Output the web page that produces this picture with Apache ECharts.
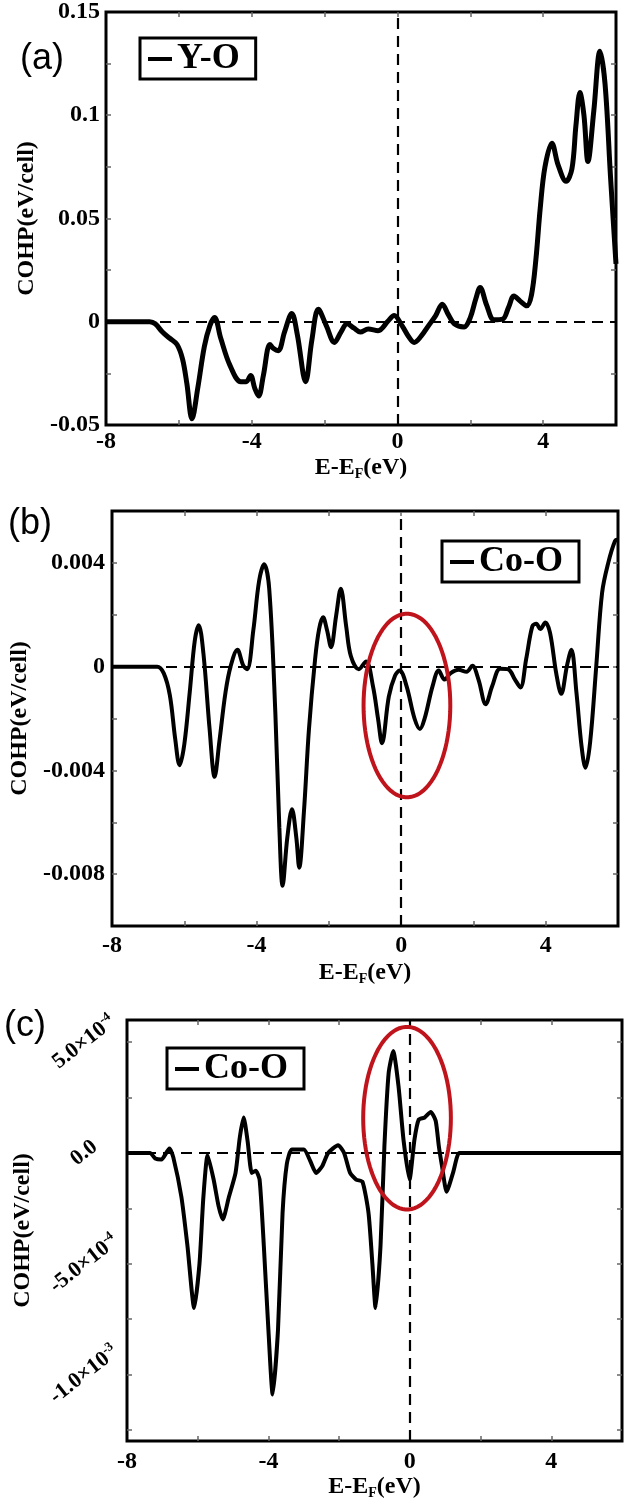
<!DOCTYPE html>
<html>
<head>
<meta charset="utf-8">
<title>COHP</title>
<script src="https://cdn.jsdelivr.net/npm/echarts@6/dist/echarts.min.js"></script>
<style>
  html, body { margin: 0; padding: 0; background: #fff; }
  #chart { width: 625px; height: 1501px; }
</style>
</head>
<body>
<div id="chart"></div>
<script>
// (a) Y-O
const energyA = [-8, -6.8, -6.65, -6.45, -6.25, -6.05, -5.9, -5.78, -5.64, -5.48, -5.3, -5.15, -5.02, -4.85, -4.6, -4.3, -4.15, -4.03, -3.92, -3.81, -3.68, -3.5, -3.4, -3.27, -3.1, -2.9, -2.75, -2.52, -2.35, -2.17, -1.95, -1.73, -1.55, -1.38, -1.2, -1.02, -0.8, -0.53, -0.25, -0.09, 0.13, 0.3, 0.46, 0.65, 0.85, 1.05, 1.23, 1.39, 1.56, 1.83, 2.0, 2.15, 2.27, 2.45, 2.65, 2.89, 3.05, 3.2, 3.37, 3.55, 3.68, 3.8, 3.92, 4.05, 4.24, 4.41, 4.63, 4.79, 4.9, 5.01, 5.12, 5.23, 5.39, 5.56, 5.7, 5.85, 6.0]
const cohpA = [0, 0, -0.001, -0.005, -0.008, -0.011, -0.018, -0.03, -0.047, -0.032, -0.012, -0.002, 0.002, -0.008, -0.021, -0.029, -0.029, -0.026, -0.032, -0.036, -0.026, -0.011, -0.013, -0.014, -0.005, 0.004, -0.006, -0.029, -0.009, 0.006, -0.002, -0.01, -0.005, -0.001, -0.003, -0.005, -0.0035, -0.0043, 0.0005, 0.003, -0.002, -0.007, -0.01, -0.007, -0.002, 0.003, 0.0085, 0.0037, -0.001, -0.0025, 0.002, 0.011, 0.0166, 0.008, 0.001, 0.0013, 0.007, 0.0125, 0.01, 0.0077, 0.013, 0.03, 0.055, 0.075, 0.0865, 0.076, 0.068, 0.074, 0.095, 0.111, 0.1, 0.0776, 0.102, 0.131, 0.115, 0.07, 0.028]

// (b) Co-O
const energyB = [-8, -6.75, -6.57, -6.4, -6.25, -6.13, -6.0, -5.85, -5.71, -5.6, -5.47, -5.3, -5.16, -5.03, -4.86, -4.72, -4.53, -4.37, -4.26, -4.09, -3.93, -3.79, -3.65, -3.48, -3.37, -3.28, -3.15, -3.02, -2.9, -2.82, -2.69, -2.55, -2.38, -2.27, -2.16, -2.05, -1.94, -1.8, -1.67, -1.52, -1.39, -1.17, -0.97, -0.78, -0.64, -0.53, -0.34, -0.17, -0.04, 0.15, 0.37, 0.52, 0.65, 0.87, 1.04, 1.2, 1.37, 1.59, 1.81, 1.97, 2.14, 2.34, 2.52, 2.74, 2.96, 3.15, 3.3, 3.46, 3.63, 3.74, 3.85, 3.99, 4.12, 4.29, 4.43, 4.59, 4.71, 4.85, 4.99, 5.1, 5.23, 5.4, 5.56, 5.73, 5.92, 6.0]
const cohpB = [0, 0, -0.00025, -0.0011, -0.0028, -0.0038, -0.003, -0.001, 0.001, 0.0016, 0.0005, -0.0024, -0.00425, -0.0029, -0.001, 0, 0.00065, 0.00005, -0.0001, 0.0014, 0.0033, 0.00395, 0.003, -0.0018, -0.0062, -0.00845, -0.0066, -0.0055, -0.0066, -0.00775, -0.0056, -0.0024, 0.0003, 0.00145, 0.0019, 0.0014, 0.00075, 0.00195, 0.003, 0.00155, 0.0004, -0.0001, 0.0002, -0.00075, -0.002, -0.00295, -0.00115, -0.00035, -0.00015, -0.00075, -0.002, -0.0024, -0.002, -0.00075, -0.00015, -0.0005, -0.00025, -0.00012, -0.0002, 0.00003, -0.0005, -0.00145, -0.00075, -0.00008, -0.0001, -0.0005, -0.0008, 0.0003, 0.00155, 0.00165, 0.00145, 0.0017, 0.0013, -0.00025, -0.00105, 0.00005, 0.00065, -0.001, -0.00305, -0.0039, -0.0029, 0.00005, 0.00285, 0.004, 0.00485, 0.0049]

// (c) Co-O
const energyC = [-8, -7.35, -7.2, -7.03, -6.8, -6.69, -6.46, -6.29, -6.1, -5.95, -5.84, -5.72, -5.55, -5.41, -5.29, -5.12, -4.93, -4.81, -4.7, -4.59, -4.47, -4.36, -4.25, -4.13, -4.0, -3.88, -3.73, -3.6, -3.48, -3.34, -3.0, -2.82, -2.65, -2.48, -2.31, -2.03, -1.86, -1.69, -1.52, -1.34, -1.17, -1.06, -0.97, -0.83, -0.72, -0.6, -0.47, -0.32, -0.18, -0.01, 0.13, 0.25, 0.42, 0.59, 0.73, 0.82, 0.91, 1.04, 1.22, 1.39, 1.5, 6]
const cohpC = [0, 0, -0.000025, -0.00003, 0.00002, -0.00002, -0.0002, -0.00042, -0.0007, -0.0005, -0.0002, -0.00001, -0.00012, -0.00024, -0.0003, -0.0002, -0.00009, 0.00007, 0.00016, 0.000055, -0.00009, -0.00008, -0.00012, -0.00042, -0.0008, -0.00109, -0.0008, -0.00027, -0.00005, 0.000015, 0.000015, -0.000035, -0.00009, -0.00006, 0, 0.000035, 0, -0.00009, -0.00012, -0.00013, -0.00027, -0.0005, -0.0007, -0.00042, 0.00003, 0.00036, 0.00046, 0.0003, 0.00006, -0.00012, 0.00006, 0.00015, 0.00016, 0.000185, 0.000145, 0.00003, -0.00006, -0.000175, -0.00009, 0, 0, 0]

// red rings: [centre E, centre COHP, half width, half height]
const ringB = [0.16, -0.0015, 1.2, 0.00354]
const ringC = [-0.08, 0.000157, 1.24, 0.000412]

// ticks
const xLabels = [-8, -4, 0, 4]
const xTicks = [-6, -4, -2, 0, 2, 4]
const yLabelsA = [-0.05, 0, 0.05, 0.1, 0.15]
const yTicksA = [-0.025, 0, 0.025, 0.05, 0.075, 0.1, 0.125]
const yLabelsB = [-0.008, -0.004, 0, 0.004]
const yTicksB = [-0.008, -0.006, -0.004, -0.002, 0, 0.002, 0.004]
const yLabelsC = [-0.001, -0.0005, 0, 0.0005]
const yTicksC = [-0.00125, -0.001, -0.00075, -0.0005, -0.00025, 0, 0.00025, 0.0005]

const FONT = 'Liberation Serif'
const zip = (xs, ys) => xs.map((x, i) => [x, ys[i]])

const myChart = echarts.init(document.getElementById('chart'))

const grids = [
  { left: 106, top: 7, width: 510, height: 418 },
  { left: 112, top: 511, width: 506, height: 415 },
  { left: 127, top: 1020, width: 495, height: 421 }
]

const tickStyle = { inside: true, length: 5, lineStyle: { color: '#666', width: 1.5 } }
const boldText = { fontFamily: FONT, fontWeight: 'bold', fontSize: 24, color: '#000' }
// axis lines are hidden, the grid border draws the frame
const noLine = { show: false, onZero: false }

function xPair(gridIndex, labelMargin, nameGap) {
  const base = { gridIndex, type: 'value', min: -8, max: 6, splitLine: { show: false }, axisLine: noLine }
  return [
    Object.assign({}, base, {
      axisTick: Object.assign({ customValues: xTicks }, tickStyle),
      axisLabel: Object.assign({ customValues: xLabels, margin: labelMargin, formatter: v => String(v) }, boldText),
      name: 'E-E{sub|F}(eV)',
      nameLocation: 'middle',
      nameGap,
      nameTextStyle: Object.assign({
        rich: { sub: { fontFamily: FONT, fontWeight: 'bold', fontSize: 14, padding: [12, 0, 0, 0] } }
      }, boldText)
    }),
    Object.assign({}, base, {
      position: 'top',
      axisTick: Object.assign({ customValues: xTicks }, tickStyle),
      axisLabel: { show: false }
    })
  ]
}

function yPair(gridIndex, min, max, ticks, label, nameGap) {
  const base = { gridIndex, type: 'value', min, max, splitLine: { show: false }, axisLine: noLine }
  return [
    Object.assign({}, base, {
      axisTick: Object.assign({ customValues: ticks }, tickStyle),
      axisLabel: label,
      name: 'COHP(eV/cell)',
      nameLocation: 'middle',
      nameGap,
      nameTextStyle: boldText
    }),
    Object.assign({}, base, {
      position: 'right',
      axisTick: Object.assign({ customValues: ticks }, tickStyle),
      axisLabel: { show: false }
    })
  ]
}

// 5.0x10^-4 style labels for panel (c)
function sciLabel(v) {
  const k = Math.round(v * 1e4)
  if (k === 0) return '0.0'
  if (k === 5) return '5.0×10{s|-4}'
  if (k === -5) return '-5.0×10{s|-4}'
  return '-1.0×10{s|-3}'
}

function renderRing(params, api) {
  const c = api.coord([api.value(0), api.value(1)])
  const e = api.coord([api.value(0) + api.value(2), api.value(1) + api.value(3)])
  const rx = Math.abs(e[0] - c[0])
  const ry = Math.abs(e[1] - c[1])
  const pts = []
  for (let i = 0; i < 90; i++) {
    const t = i / 90 * Math.PI * 2
    pts.push([c[0] + rx * Math.cos(t), c[1] + ry * Math.sin(t)])
  }
  return {
    type: 'polygon',
    shape: { points: pts },
    style: { fill: 'none', stroke: '#c0141c', lineWidth: 4 }
  }
}

const zeroLines = {
  silent: true,
  symbol: ['none', 'none'],
  label: { show: false },
  lineStyle: { color: '#000', type: [11, 7], width: 2.2 },
  data: [{ yAxis: 0 }, { xAxis: 0 }]
}

function curve(name, idx, data, width, smooth) {
  return {
    name,
    type: 'line',
    xAxisIndex: idx * 2,
    yAxisIndex: idx * 2,
    data,
    color: '#000',
    showSymbol: false,
    smooth,
    lineStyle: { color: '#000', width },
    markLine: zeroLines,
    z: 3
  }
}

function ring(idx, values) {
  return {
    type: 'custom',
    xAxisIndex: idx * 2,
    yAxisIndex: idx * 2,
    data: [values],
    renderItem: renderRing,
    silent: true,
    z: 5
  }
}

const legendBase = {
  icon: 'rect',
  itemWidth: 24,
  itemHeight: 4,
  selectedMode: false,
  borderColor: '#000',
  borderWidth: 3,
  padding: [3, 16, 2, 8],
  textStyle: { fontFamily: FONT, fontWeight: 'bold', fontSize: 36, color: '#000' }
}

const panelLetter = (text, left, top) => ({
  type: 'text',
  left,
  top,
  style: { text, font: '36px "Liberation Sans"', fill: '#000' }
})

myChart.setOption({
  animation: false,
  backgroundColor: '#fff',
  grid: grids.map(g => Object.assign({ show: true, borderColor: '#000', borderWidth: 3 }, g)),
  xAxis: [].concat(xPair(0, 5, 30), xPair(1, 8, 34), xPair(2, 9, 30)),
  yAxis: [].concat(
    yPair(0, -0.05, 0.15, yTicksA,
      Object.assign({ customValues: yLabelsA, margin: 6, formatter: v => String(v) }, boldText), 66),
    yPair(1, -0.01, 0.006, yTicksB,
      Object.assign({ customValues: yLabelsB, margin: 7, formatter: v => String(v) }, boldText), 78),
    yPair(2, -0.0013, 0.0006, yTicksC,
      Object.assign({
        customValues: yLabelsC,
        margin: 43,
        rotate: 38,
        align: 'center',
        verticalAlign: 'middle',
        formatter: sciLabel,
        rich: { s: { fontFamily: FONT, fontWeight: 'bold', fontSize: 13, padding: [0, 0, 12, 0] } }
      }, boldText, { fontSize: 22 }), 91)
  ),
  legend: [
    Object.assign({ left: 140, top: 38, data: ['Y-O'] }, legendBase),
    Object.assign({ left: 442, top: 541, data: ['Co-O'] }, legendBase),
    Object.assign({ left: 167, top: 1048, data: ['Co-O'] }, legendBase)
  ],
  graphic: [
    panelLetter('(a)', 20, 41),
    panelLetter('(b)', 8, 506),
    panelLetter('(c)', 4, 1008)
  ],
  series: [
    curve('Y-O', 0, zip(energyA, cohpA), 5, 0.35),
    curve('Co-O', 1, zip(energyB, cohpB), 4, 0.35),
    curve('Co-O', 2, zip(energyC, cohpC), 4, 0.2),
    ring(1, ringB),
    ring(2, ringC)
  ]
})
</script>
</body>
</html>
